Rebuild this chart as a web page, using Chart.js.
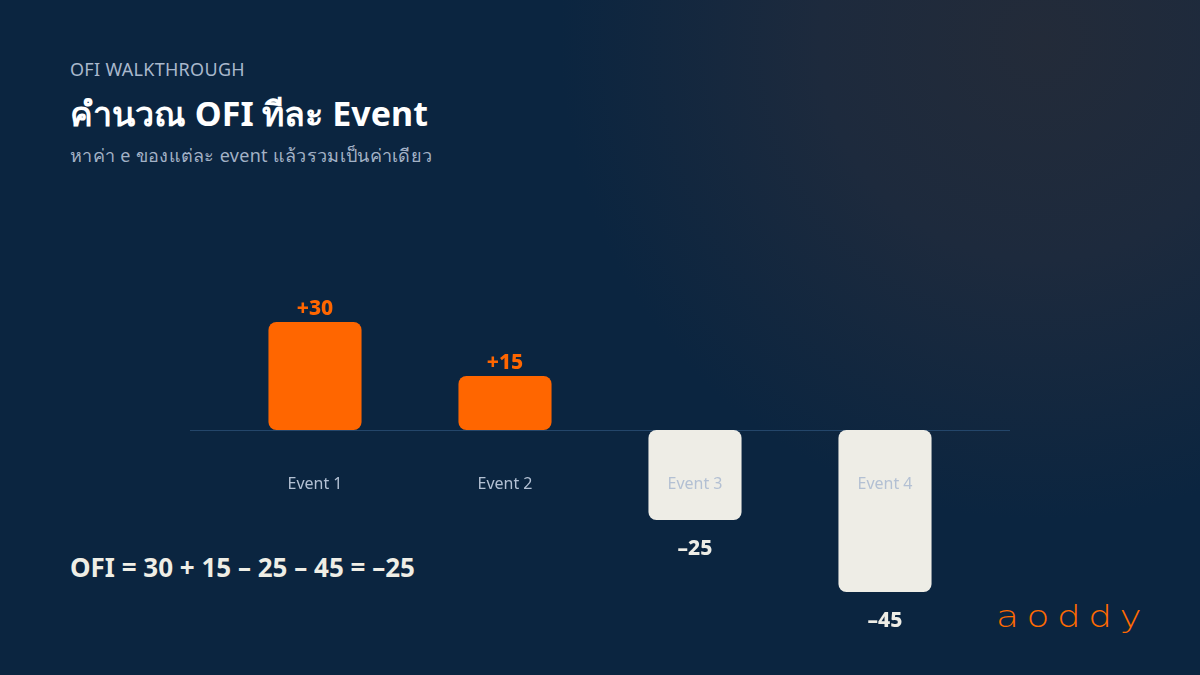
<!DOCTYPE html>
<html>
<head>
<meta charset="utf-8">
<script src="https://cdn.jsdelivr.net/npm/chart.js@4"></script>
<style>
  html, body { margin: 0; padding: 0; }
  body {
    width: 1200px; height: 675px; overflow: hidden; position: relative;
    background: radial-gradient(circle at 1040px 40px, #232b39 0px, #1d2a3d 220px, #0b2540 480px, #0b2540 100%);
    font-family: "Noto Sans", "Inter", sans-serif;
  }
  .txt { position: absolute; left: 70px; white-space: nowrap; }
  #kicker { top: 57px; font-size: 18px; color: #a9b8cc; letter-spacing: 0.3px; }
  #title { top: 87px; font-size: 34px; font-weight: 700; color: #ffffff; }
  #subtitle { top: 141px; font-size: 18px; color: #a3b2c6; letter-spacing: 0.3px; }
  #formula { top: 549px; font-size: 26px; font-weight: 700; color: #efeee6; }
  #logo {
    position: absolute; left: 996px; top: 599px; font-size: 30px; font-weight: 300;
    color: #ff6a00; letter-spacing: 6px; font-family: "DejaVu Sans", sans-serif;
    transform: scaleX(1.25); transform-origin: left top;
  }
  #wrap { position: absolute; left: 0; top: 0; width: 1200px; height: 675px; }
</style>
</head>
<body>
<div class="txt" id="kicker">OFI WALKTHROUGH</div>
<div class="txt" id="title">คำนวณ OFI ทีละ Event</div>
<div class="txt" id="subtitle">หาค่า e ของแต่ละ event แล้วรวมเป็นค่าเดียว</div>
<div class="txt" id="formula"></div>
<div id="logo">aoddy</div>
<div id="wrap"><canvas id="ofiChart"></canvas></div>
<script>
  // Data
  const categories = ['Event 1', 'Event 2', 'Event 3', 'Event 4'];
  const eventValues = [30, 15, -25, -45];

  const posColor = '#ff6600';
  const negColor = '#eeede6';

  const fmt = v => (v > 0 ? '+' : '–') + Math.abs(v);

  // Formula line built from the values
  const total = eventValues.reduce((a, b) => a + b, 0);
  let formula = 'OFI = ' + eventValues[0];
  eventValues.slice(1).forEach(v => { formula += (v >= 0 ? ' + ' : ' – ') + Math.abs(v); });
  formula += ' = ' + (total < 0 ? '–' : '') + Math.abs(total);
  document.getElementById('formula').textContent = formula;

  // Zero line, category labels and value labels
  const annotate = {
    id: 'annotate',
    beforeDatasetsDraw(chart) {
      const { ctx, chartArea, scales } = chart;
      const y0 = scales.y.getPixelForValue(0);
      ctx.save();
      ctx.strokeStyle = '#24466a';
      ctx.lineWidth = 1;
      ctx.beginPath();
      ctx.moveTo(chartArea.left - 30, Math.round(y0) + 0.5);
      ctx.lineTo(chartArea.right + 30, Math.round(y0) + 0.5);
      ctx.stroke();
      ctx.restore();
    },
    afterDatasetsDraw(chart) {
      const { ctx, scales } = chart;
      const y0 = scales.y.getPixelForValue(0);
      const meta = chart.getDatasetMeta(0);
      ctx.save();
      ctx.textAlign = 'center';
      ctx.textBaseline = 'middle';
      categories.forEach((c, i) => {
        const x = scales.x.getPixelForValue(i);
        ctx.font = '16px "Noto Sans", sans-serif';
        ctx.fillStyle = '#b3c0d3';
        ctx.fillText(c, x, y0 + 54);
      });
      meta.data.forEach((bar, i) => {
        const v = eventValues[i];
        ctx.font = '800 21px "Noto Sans", sans-serif';
        ctx.fillStyle = v >= 0 ? posColor : negColor;
        ctx.fillText(fmt(v), bar.x, v >= 0 ? bar.y - 13 : bar.y + 29);
      });
      ctx.restore();
    }
  };

  new Chart(document.getElementById('ofiChart'), {
    type: 'bar',
    data: {
      labels: categories,
      datasets: [{
        data: eventValues,
        backgroundColor: eventValues.map(v => v >= 0 ? posColor : negColor),
        borderRadius: 8,
        borderSkipped: false,
        barPercentage: 0.49,
        categoryPercentage: 1
      }]
    },
    options: {
      responsive: true,
      maintainAspectRatio: false,
      animation: false,
      layout: { padding: { left: 220, right: 220, top: 286, bottom: 29 } },
      scales: {
        x: { display: false },
        y: { display: false, min: -60, max: 40 }
      },
      plugins: {
        legend: { display: false },
        tooltip: { enabled: false }
      }
    },
    plugins: [annotate]
  });
</script>
</body>
</html>
